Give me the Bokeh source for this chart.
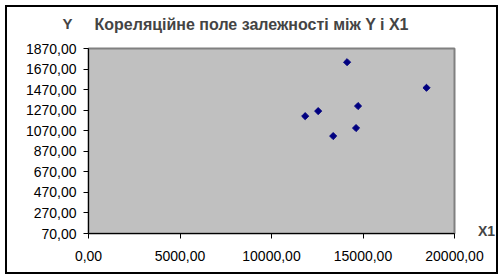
import math
from bokeh.plotting import figure
from bokeh.models import Range1d, FixedTicker, Label, ColumnDataSource
from bokeh.embed import file_html
from bokeh.resources import INLINE

title_text = "Кореляційне поле залежності між Y і X1"
x_label = "X1"
y_label = "Y"
x1 = [14130, 18470, 14730, 12550, 11840, 14620, 13370]
y = [1737, 1488, 1310, 1261, 1212, 1096, 1018]
x_ticks = [0, 5000, 10000, 15000, 20000]
y_ticks = [70, 270, 470, 670, 870, 1070, 1270, 1470, 1670, 1870]

FONT = "Liberation Sans"

p = figure(width=503, height=279, output_backend="svg", toolbar_location=None,
           x_range=Range1d(0, 20000), y_range=Range1d(70, 1870),
           min_border_left=88, min_border_right=49, min_border_top=48, min_border_bottom=46)
p.background_fill_color = "#C0C0C0"
p.border_fill_color = "white"
p.outline_line_color = "#808080"
p.outline_line_width = 2
p.grid.visible = False
p.stylesheets = [":host::after { content: ''; position: absolute; left: 5px; top: 5px; "
                 "right: 5px; bottom: 5px; border: 2px solid black; box-sizing: border-box; "
                 "pointer-events: none; z-index: 100; }"]

for ax, ticks in ((p.xaxis[0], x_ticks), (p.yaxis[0], y_ticks)):
    ax.ticker = FixedTicker(ticks=ticks)
    ax.major_label_overrides = {t: f"{t},00" for t in ticks}
    ax.major_tick_in = 0
    ax.major_tick_out = 5
    ax.minor_tick_in = 0
    ax.minor_tick_out = 0
    ax.axis_line_color = "black"
    ax.major_tick_line_color = "black"
    ax.major_label_text_font = FONT
    ax.major_label_text_font_size = "14px"
    ax.major_label_text_color = "black"
p.xaxis[0].major_label_standoff = 12
p.yaxis[0].major_label_standoff = 7

src = ColumnDataSource(dict(x=x1, y=y))
p.scatter("x", "y", source=src, marker="square", size=5, angle=math.pi / 4, color="#000080")

def lab(cx, cy, text, align, size):
    return Label(x=cx, y=cy, x_units="canvas", y_units="canvas", text=text,
                 text_font=FONT, text_font_style="bold", text_font_size=size,
                 text_baseline="middle", text_align=align)

p.add_layout(lab(94, 24, title_text, "left", "16px"), "above")
p.add_layout(lab(67, 23, y_label, "center", "15px"), "above")
p.add_layout(lab(486, 230, x_label, "center", "14px"), "right")

open("out.html", "w").write(file_html(p, INLINE))
